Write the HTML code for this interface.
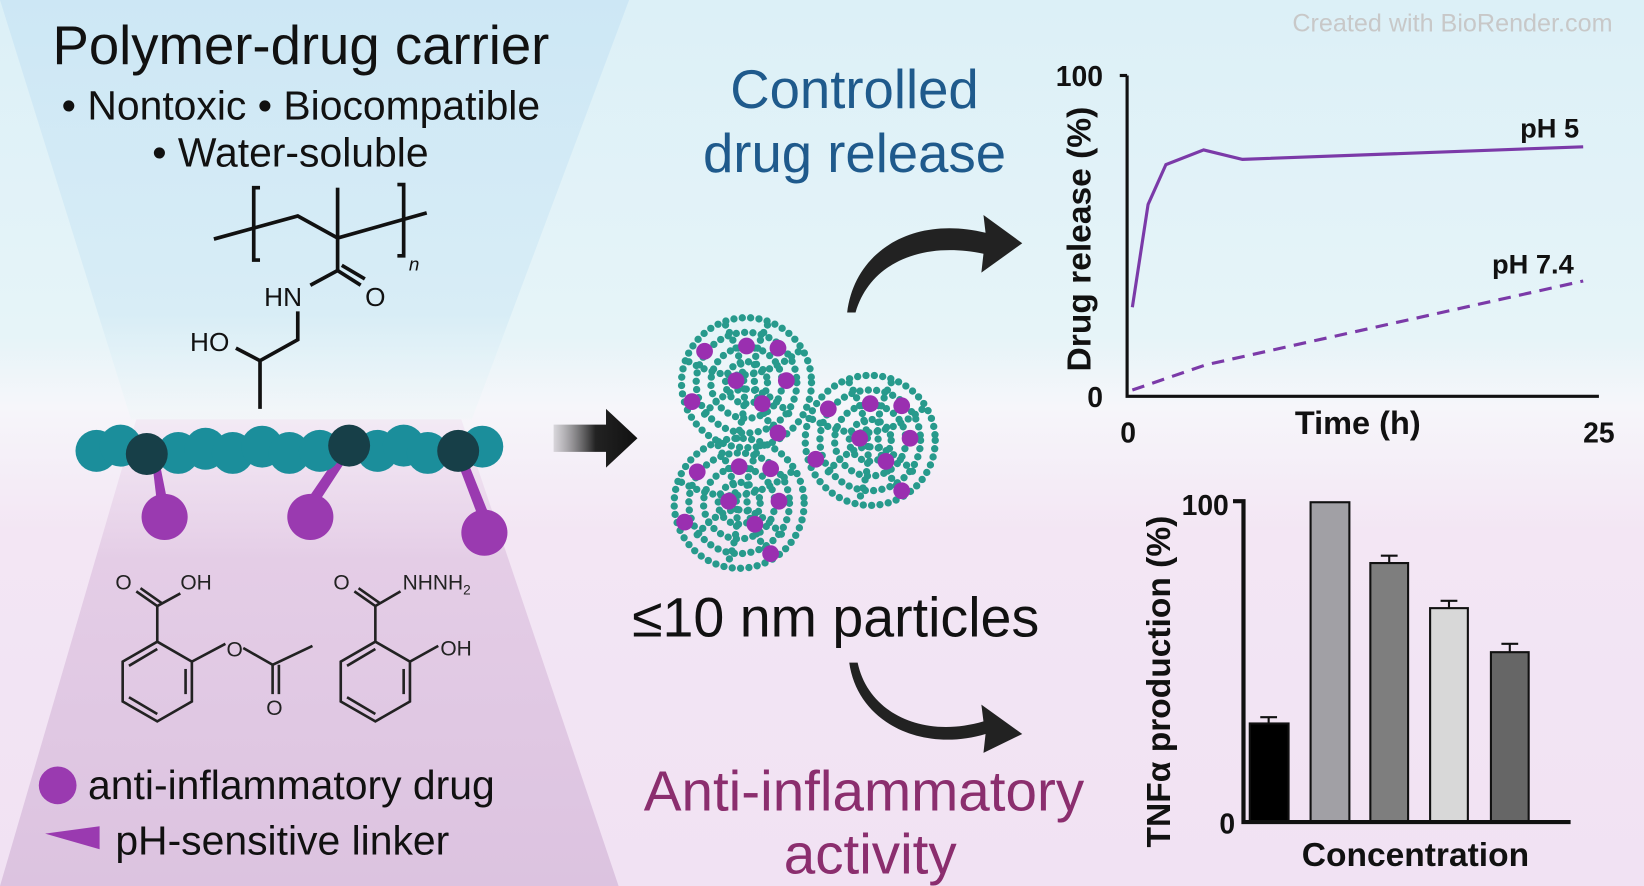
<!DOCTYPE html>
<html><head><meta charset="utf-8"><style>
html,body{margin:0;padding:0;width:1644px;height:886px;overflow:hidden;background:#e8f2f8}
svg{display:block}
text{font-family:"Liberation Sans",sans-serif}
</style></head><body>
<svg width="1644" height="886" viewBox="0 0 1568 845" preserveAspectRatio="none" xmlns="http://www.w3.org/2000/svg">
<defs>
<linearGradient id="bg" x1="0" y1="0" x2="0" y2="1">
<stop offset="0" stop-color="#dcf0f7"/><stop offset="0.38" stop-color="#e6f4f8"/><stop offset="0.46" stop-color="#f6f6fa"/><stop offset="0.6" stop-color="#f3e6f4"/><stop offset="1" stop-color="#f1e2f3"/>
</linearGradient>
<linearGradient id="tb" x1="0" y1="0" x2="0" y2="1"><stop offset="0" stop-color="#cde7f5"/><stop offset="0.75" stop-color="#d8edf6"/><stop offset="1" stop-color="#eef6f8" stop-opacity="0.4"/></linearGradient>
<linearGradient id="pb" x1="0" y1="0" x2="0" y2="1"><stop offset="0" stop-color="#efe0f0" stop-opacity="0.5"/><stop offset="0.3" stop-color="#e4cde6"/><stop offset="1" stop-color="#dcc3e0"/></linearGradient>
<linearGradient id="arr" x1="0" x2="1"><stop offset="0" stop-color="#666" stop-opacity="0.2"/><stop offset="0.5" stop-color="#222"/><stop offset="1" stop-color="#111"/></linearGradient>
<g id="np">
<circle r="62" fill="none" stroke="#279a8c" stroke-width="7" stroke-dasharray="0 8" stroke-linecap="round"/>
<circle r="48" fill="none" stroke="#279a8c" stroke-width="7" stroke-dasharray="0 8" stroke-linecap="round"/>
<circle r="34" fill="none" stroke="#279a8c" stroke-width="7" stroke-dasharray="0 8" stroke-linecap="round"/>
<circle r="20" fill="none" stroke="#279a8c" stroke-width="7" stroke-dasharray="0 8" stroke-linecap="round"/>
<path d="M-55,-20 Q0,10 50,-30 M-40,30 Q0,-20 45,35 M-20,-55 Q10,0 -10,55 M20,-55 Q-10,0 30,50" fill="none" stroke="#279a8c" stroke-width="7" stroke-dasharray="0 8" stroke-linecap="round"/>
<g fill="#9a2fb0"><circle cx="-40" cy="-30" r="8"/><circle cx="0" cy="-35" r="8"/><circle cx="30" cy="-33" r="8"/><circle cx="-10" cy="-2" r="8"/><circle cx="38" cy="-2" r="8"/><circle cx="-52" cy="18" r="8"/><circle cx="15" cy="20" r="8"/><circle cx="30" cy="48" r="8"/></g>
</g>
</defs>
<rect width="1568" height="845" fill="url(#bg)"/>
<polygon points="0,0 600,0 450,400 125,400" fill="url(#tb)"/>
<polygon points="130,400 440,400 590,845 0,845" fill="url(#pb)"/>

<text x="287" y="61" font-size="52" text-anchor="middle" fill="#111">Polymer-drug carrier</text>
<text x="287" y="114" font-size="39" text-anchor="middle" fill="#111">• Nontoxic • Biocompatible</text>
<text x="277" y="159" font-size="39" text-anchor="middle" fill="#111">• Water-soluble</text>

<g stroke="#111" stroke-width="3.5" fill="none">
<polyline points="204,228 284,206 322,227 407,203"/>
<polyline points="248,179 242,179 242,248 248,248"/>
<polyline points="379,176 385,176 385,244 379,244"/>
<line x1="322" y1="179" x2="322" y2="227"/>
<line x1="322" y1="227" x2="322" y2="258"/>
<line x1="322" y1="258" x2="296" y2="272"/>
<line x1="322" y1="258" x2="344" y2="272"/>
<line x1="326" y1="253" x2="348" y2="266"/>
<polyline points="284,297 284,324 248,344 248,390"/>
<line x1="248" y1="344" x2="225" y2="332"/>
</g>
<text x="270" y="292" font-size="25" text-anchor="middle" fill="#111">HN</text>
<text x="358" y="292" font-size="25" text-anchor="middle" fill="#111">O</text>
<text x="200" y="335" font-size="25" text-anchor="middle" fill="#111">HO</text>
<text x="390" y="258" font-size="18" font-style="italic" fill="#111">n</text>

<g fill="#9a3ab0">
<polygon points="145,440 152,440 160,480 150,482"/>
<polygon points="318,440 328,442 302,482 292,478"/>
<polygon points="436,440 446,440 468,495 458,498"/>
<circle cx="157" cy="493" r="22"/><circle cx="296" cy="493" r="22"/><circle cx="462" cy="508" r="22"/>
</g>
<g fill="#1b8e9b">
<circle cx="92" cy="430" r="20"/><circle cx="115" cy="425" r="20"/><circle cx="170" cy="432" r="20"/><circle cx="196" cy="428" r="20"/><circle cx="222" cy="432" r="20"/><circle cx="250" cy="426" r="20"/><circle cx="276" cy="432" r="20"/><circle cx="305" cy="430" r="20"/><circle cx="360" cy="430" r="20"/><circle cx="385" cy="425" r="20"/><circle cx="408" cy="432" r="20"/><circle cx="460" cy="426" r="20"/>
</g>
<g fill="#173f48"><circle cx="140" cy="433" r="20"/><circle cx="333" cy="425" r="20"/><circle cx="437" cy="430" r="20"/></g>

<g stroke="#222" stroke-width="2.5" fill="none">
<polygon points="150,612 183,631 183,669 150,688 117,669 117,631"/>
<line x1="177" y1="638" x2="177" y2="662"/><line x1="150" y1="681" x2="123" y2="665"/><line x1="123" y1="635" x2="150" y2="619"/>
<line x1="150" y1="612" x2="150" y2="578"/><line x1="150" y1="578" x2="130" y2="564"/><line x1="154" y1="575" x2="134" y2="561"/><line x1="150" y1="578" x2="172" y2="566"/>
<line x1="183" y1="631" x2="215" y2="614"/><line x1="232" y1="618" x2="260" y2="634"/><line x1="260" y1="634" x2="260" y2="662"/><line x1="266" y1="634" x2="266" y2="662"/><line x1="260" y1="634" x2="298" y2="616"/>
<polygon points="358,612 391,631 391,669 358,688 325,669 325,631"/>
<line x1="385" y1="638" x2="385" y2="662"/><line x1="358" y1="681" x2="331" y2="665"/><line x1="331" y1="635" x2="358" y2="619"/>
<line x1="358" y1="612" x2="358" y2="578"/><line x1="358" y1="578" x2="338" y2="564"/><line x1="362" y1="575" x2="342" y2="561"/><line x1="358" y1="578" x2="382" y2="564"/>
<line x1="391" y1="631" x2="418" y2="616"/>
</g>
<g font-size="20" fill="#222">
<text x="110" y="562">O</text><text x="172" y="562">OH</text><text x="216" y="626">O</text><text x="254" y="682">O</text>
<text x="318" y="562">O</text><text x="384" y="562">NHNH<tspan font-size="13" dy="5">2</tspan></text><text x="420" y="625">OH</text>
</g>

<circle cx="55" cy="749" r="18" fill="#9a3ab0"/>
<text x="84" y="762" font-size="39" fill="#111">anti-inflammatory drug</text>
<polygon points="43,795 95,788 95,810" fill="#9a3ab0"/>
<text x="110" y="815" font-size="39" fill="#111">pH-sensitive linker</text>

<polygon points="528,405 578,405 578,390 608,418 578,446 578,431 528,431" fill="url(#arr)"/>

<use href="#np" x="712" y="365"/><use href="#np" x="830" y="420"/><use href="#np" x="705" y="480"/>

<text x="815" y="103" font-size="52" text-anchor="middle" fill="#1f5a8c">Controlled</text>
<text x="815" y="164" font-size="52" text-anchor="middle" fill="#1f5a8c">drug release</text>
<text x="797" y="607" font-size="53" text-anchor="middle" fill="#111">≤10 nm particles</text>
<text x="824" y="773" font-size="54" text-anchor="middle" fill="#8b2e6e">Anti-inflammatory</text>
<text x="830" y="833" font-size="54" text-anchor="middle" fill="#8b2e6e">activity</text>

<path d="M808,298 C815,240 870,205 940,222 L938,205 L975,232 L936,260 L938,242 C880,230 830,250 816,298 Z" fill="#222"/>
<path d="M810,632 C818,690 880,718 940,700 L938,718 L975,700 L936,672 L938,688 C880,705 828,680 818,632 Z" fill="#222"/>

<text x="1538" y="30" font-size="24" text-anchor="end" fill="#c8c8c8">Created with BioRender.com</text>

<g stroke="#111" stroke-width="3" fill="none"><polyline points="1075,72 1075,378 1525,378"/><line x1="1068" y1="72" x2="1075" y2="72"/></g>
<g font-weight="bold" fill="#111" font-size="27">
<text x="1052" y="82" text-anchor="end">100</text><text x="1052" y="388" text-anchor="end">0</text>
<text x="1076" y="422" text-anchor="middle">0</text><text x="1525" y="422" text-anchor="middle">25</text>
<text x="1295" y="414" text-anchor="middle" font-size="31">Time (h)</text>
<text x="1478" y="131" text-anchor="middle" font-size="26">pH 5</text><text x="1462" y="261" text-anchor="middle" font-size="26">pH 7.4</text>
<text transform="translate(1040,228) rotate(-90)" text-anchor="middle" font-size="32">Drug release (%)</text>
</g>
<polyline points="1080,293 1095,195 1112,157 1148,143 1185,152 1510,140" fill="none" stroke="#7b3aa8" stroke-width="3"/>
<polyline points="1080,372 1150,348 1510,268" fill="none" stroke="#7b3aa8" stroke-width="3" stroke-dasharray="12 8"/>

<g stroke="#111" stroke-width="2">
<rect x="1192" y="690" width="37" height="94" fill="#000"/>
<rect x="1250" y="479" width="37" height="305" fill="#a1a0a5"/>
<rect x="1307" y="537" width="36" height="247" fill="#7e7e7e"/>
<rect x="1364" y="580" width="36" height="204" fill="#d8d8d8"/>
<rect x="1422" y="622" width="36" height="162" fill="#666"/>
<path d="M1210,690 V684 M1202,684 H1218 M1325,537 V530 M1317,530 H1333 M1382,580 V573 M1374,573 H1390 M1440,622 V614 M1432,614 H1448" fill="none"/>
</g>
<g stroke="#111" stroke-width="4" fill="none"><polyline points="1176,478 1186,478 1186,784 1498,784"/></g>
<g font-weight="bold" fill="#111" font-size="27">
<text x="1172" y="491" text-anchor="end">100</text><text x="1178" y="795" text-anchor="end">0</text>
<text x="1350" y="826" text-anchor="middle" font-size="32">Concentration</text>
<text transform="translate(1116,650) rotate(-90)" text-anchor="middle" font-size="32">TNFα production (%)</text>
</g>
</svg>
</body></html>
